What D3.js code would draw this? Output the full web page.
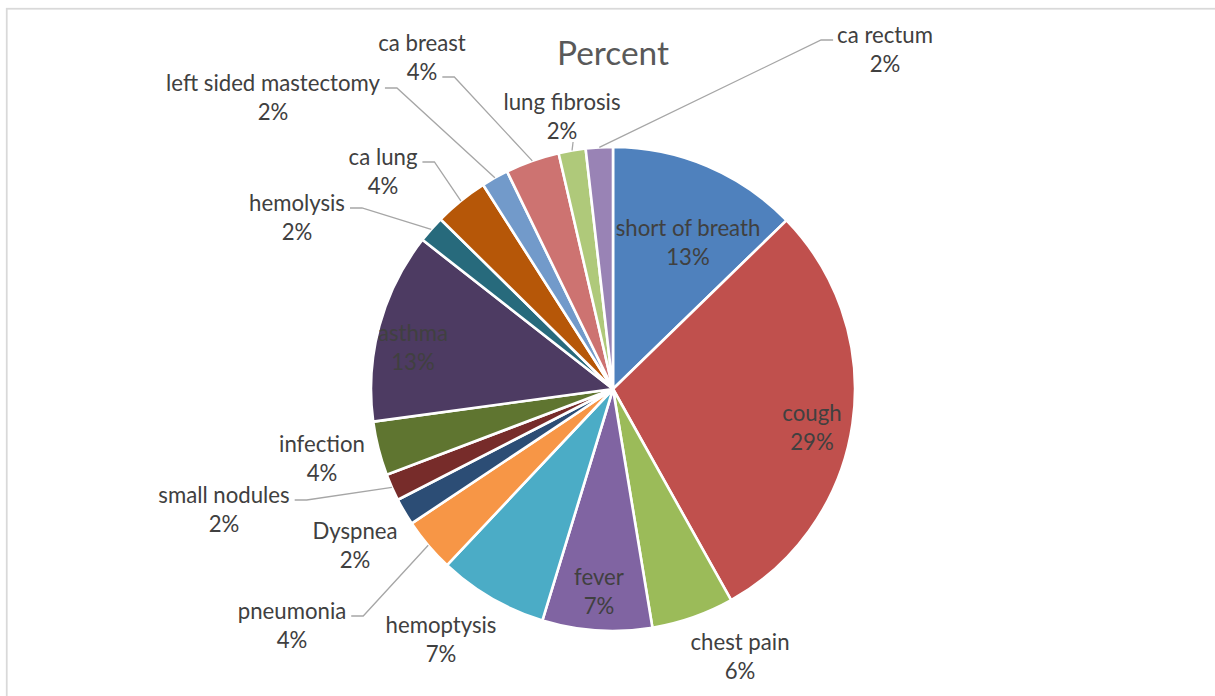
<!DOCTYPE html>
<html>
<head>
<meta charset="utf-8">
<script src="https://cdn.jsdelivr.net/npm/d3@7"></script>
<style>
  html, body { margin: 0; padding: 0; background: #fff; }
  svg { display: block; }
</style>
</head>
<body>
<svg id="chart" width="1215" height="696"></svg>
<script>
// ---- data ----
const categories = ["short of breath", "cough", "chest pain", "fever", "hemoptysis", "pneumonia",
  "Dyspnea", "small nodules", "infection", "asthma", "hemolysis", "ca lung",
  "left sided mastectomy", "ca breast", "lung fibrosis", "ca rectum"];
const percentValues = [12.7, 29.1, 5.5, 7.3, 7.3, 3.6, 1.8, 1.8, 3.6, 12.7, 1.8, 3.6, 1.8, 3.6, 1.8, 1.8];
const sliceColors = ["#4F81BD", "#C0504D", "#9BBB59", "#8064A2", "#4BACC6", "#F79646",
  "#2C4D75", "#772C2A", "#5F7530", "#4D3B62", "#276A7C", "#B65708",
  "#729ACA", "#CD7371", "#AFC97A", "#9983B5"];
const chartTitle = "Percent";

// ---- layout (label placement relative to pie centre, leader attach mode) ----
const labelOffsets = [
  [75, -153], [199, 32], [127, 261], [-14, 196], [-172, 244], [-321, 230],
  [-258, 150], [-389, 114], [-291, 63], [-200, -48], [-316, -178], [-230, -224],
  [-340, -298], [-191, -338], [-51, -279], [272, -346]
];
// leader: null = none, "l1" = side of first line, "l2" = side of second line, "bottom" = below label
const leaderMode = [null, null, null, null, null, "l1", null, "l1", null, null, "l1", "l1", "l1", "l2", "bottom", "l1"];

const W = 1215, H = 696;
const cx = 613, cy = 389, R = 242;
const lineGap = 29;

const svg = d3.select("#chart");

// border
svg.append("rect")
  .attr("x", 6.75).attr("y", 8.75)
  .attr("width", W + 20).attr("height", H + 20)
  .attr("fill", "none").attr("stroke", "#d9d9d9").attr("stroke-width", 1.75);

const fontFamily = "Lato, 'Open Sans', 'DejaVu Sans', sans-serif";

// helper to fit font size to target width
function fitSize(text, targetW, base) {
  const t = svg.append("text").attr("font-family", fontFamily).attr("font-size", base).text(text);
  const w = t.node().getComputedTextLength();
  t.remove();
  return base * targetW / w;
}
const labelSize = fitSize("left sided mastectomy", 214, 20);
const titleSize = fitSize(chartTitle, 112, 28);

// title
svg.append("text")
  .attr("x", cx).attr("y", 65)
  .attr("text-anchor", "middle")
  .attr("font-family", fontFamily)
  .attr("font-size", titleSize)
  .attr("fill", "#595959")
  .text(chartTitle);

const data = categories.map((c, i) => ({ name: c, value: percentValues[i], color: sliceColors[i], i }));

const pie = d3.pie().value(d => d.value).sort(null).startAngle(0).endAngle(2 * Math.PI);
const arcs = pie(data);
const arc = d3.arc().innerRadius(0).outerRadius(R);

const g = svg.append("g").attr("transform", `translate(${cx},${cy})`);

g.selectAll("path.slice")
  .data(arcs)
  .join("path")
  .attr("class", "slice")
  .attr("d", arc)
  .attr("fill", d => d.data.color)
  .attr("stroke", "#fff")
  .attr("stroke-width", 2.6)
  .attr("stroke-linejoin", "round");

// labels
const fmt = v => Math.round(v) + "%";
const labelG = g.append("g");
arcs.forEach((a, i) => {
  const [dx, dy] = labelOffsets[i];
  const t = labelG.append("text")
    .attr("text-anchor", "middle")
    .attr("font-family", fontFamily)
    .attr("font-size", labelSize)
    .attr("fill", "#404040");
  t.append("tspan").attr("x", dx).attr("y", dy).text(a.data.name);
  t.append("tspan").attr("x", dx).attr("y", dy + lineGap).text(fmt(a.data.value));

  const mode = leaderMode[i];
  if (!mode) return;
  const spans = t.selectAll("tspan").nodes();
  const mid = (a.startAngle + a.endAngle) / 2;
  const ex = R * Math.sin(mid), ey = -R * Math.cos(mid);
  let pts;
  if (mode === "bottom") {
    const b = t.node().getBBox();
    pts = [[ex + 1, b.y + b.height - 2], [ex, ey]];
  } else {
    const span = mode === "l1" ? spans[0] : spans[1];
    const w = span.getComputedTextLength();
    const ly = (mode === "l1" ? dy : dy + lineGap) - 3;
    const rightSide = ex > dx;
    const sx = rightSide ? dx + w / 2 + 5 : dx - w / 2 - 4;
    const kx = rightSide ? sx + 12 : sx - 12;
    pts = [[sx, ly], [kx, ly], [ex, ey]];
  }
  labelG.append("path")
    .attr("d", d3.line()(pts))
    .attr("fill", "none")
    .attr("stroke", "#a6a6a6")
    .attr("stroke-width", 1.3);
});
</script>
</body>
</html>
